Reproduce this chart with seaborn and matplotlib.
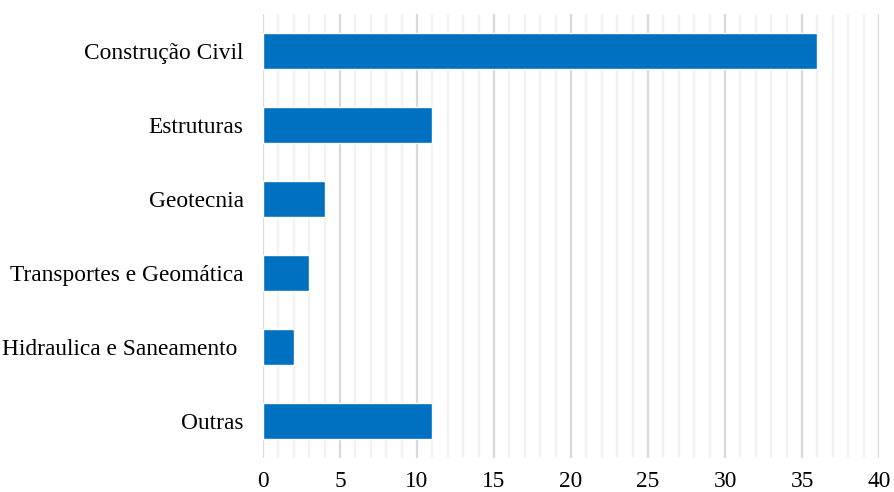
import matplotlib
matplotlib.use("Agg")
import matplotlib.pyplot as plt
import seaborn as sns
import pandas as pd
from matplotlib.ticker import MultipleLocator

categorias = ["Construção Civil", "Estruturas", "Geotecnia",
              "Transportes e Geomática", "Hidraulica e Saneamento ", "Outras"]
valores = [36, 11, 4, 3, 2, 11]
ticks_x = [0, 5, 10, 15, 20, 25, 30, 35, 40]

sns.set_theme(style="white")
plt.rcParams["font.family"] = ["Liberation Serif", "DejaVu Serif"]

df = pd.DataFrame({"area": categorias, "n": valores})

fig = plt.figure(figsize=(8.95, 4.92), dpi=100)
ax = fig.add_axes([0.2939, 0.069, 0.6883, 0.9025])

sns.barplot(data=df, y="area", x="n", orient="h", color="#0070C0",
            saturation=1, width=0.475, ax=ax, zorder=3)

ax.set_xlim(0, 40)
ax.set_ylim(5.5, -0.5)
ax.set_xticks(ticks_x)
ax.xaxis.set_minor_locator(MultipleLocator(1))
ax.grid(axis="x", which="major", color="#D9D9D9", linewidth=1.6, zorder=0)
ax.grid(axis="x", which="minor", color="#F2F2F2", linewidth=1.6, zorder=0)
ax.set_axisbelow(True)
for s in ax.spines.values():
    s.set_visible(False)
ax.set_xlabel("")
ax.set_ylabel("")
ax.tick_params(axis="x", which="both", length=0, labelsize=16.8, pad=9, colors="black")
ax.tick_params(axis="y", length=0, labelsize=16.8, pad=14, colors="black")

fig.savefig("out.png", dpi=100)
